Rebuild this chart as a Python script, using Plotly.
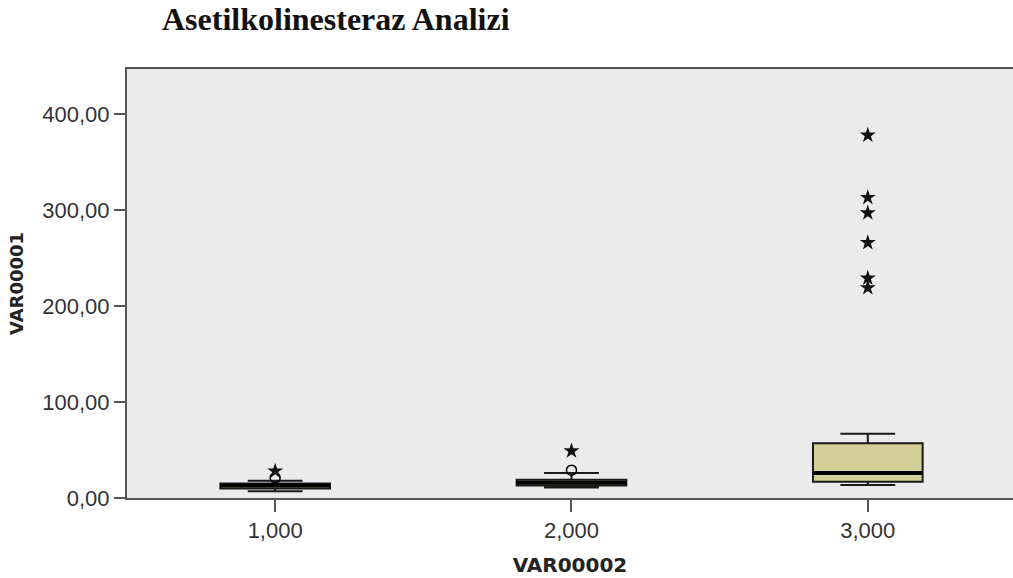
import plotly.graph_objects as go

# Data
groups = [1, 2, 3]
group_labels = ["1,000", "2,000", "3,000"]
q1 = [10.0, 13.0, 17.0]
median = [13.0, 16.0, 26.0]
q3 = [15.0, 19.0, 57.0]
lower_whisker = [7.0, 11.0, 13.5]
upper_whisker = [18.0, 26.0, 67.0]

# outliers: circles (mild) and stars (extreme)
circle_x = [1, 2]
circle_y = [21.0, 29.0]
star_x = [1, 2, 3, 3, 3, 3, 3, 3]
star_y = [28.0, 49.0, 378.0, 313.0, 297.0, 266.0, 229.0, 219.0]

y_ticks = [0, 100, 200, 300, 400]
y_tick_labels = ["0,00", "100,00", "200,00", "300,00", "400,00"]

BOX_W = 0.37
fig = go.Figure()
for i, g in enumerate(groups):
    fig.add_trace(go.Box(
        x=[g], q1=[q1[i]], median=[median[i]], q3=[q3[i]],
        lowerfence=[lower_whisker[i]], upperfence=[upper_whisker[i]],
        width=BOX_W, whiskerwidth=0.5,
        fillcolor="#D4CF96", line=dict(color="#1a1a1a", width=2),
        boxpoints=False, showlegend=False, hoverinfo="skip"))
    fig.add_trace(go.Scatter(
        x=[g - BOX_W / 2, g + BOX_W / 2], y=[median[i], median[i]],
        mode="lines", line=dict(color="black", width=4),
        showlegend=False, hoverinfo="skip"))

fig.add_trace(go.Scatter(
    x=circle_x, y=circle_y, mode="markers",
    marker=dict(symbol="circle-open", size=10, color="black", line=dict(width=1.5)),
    showlegend=False))
fig.add_trace(go.Scatter(
    x=star_x, y=star_y, mode="markers",
    marker=dict(symbol="star", size=12, color="#111111", line=dict(width=0)),
    showlegend=False))

fig.update_layout(
    width=1013, height=578,
    margin=dict(l=127, r=0, t=69, b=80),
    paper_bgcolor="white", plot_bgcolor="#EBEBEB",
    title=dict(text="<b>Asetilkolinesteraz Analizi</b>",
               font=dict(family="Liberation Serif", size=32, color="#111111"),
               x=162 / 1013, xanchor="left", y=1 - 19 / 578, yanchor="middle"),
    font=dict(family="Liberation Sans, Arial", color="#333333"),
)
fig.update_xaxes(
    range=[0.5, 3.49], tickmode="array", tickvals=groups, ticktext=group_labels,
    ticks="outside", ticklen=12, tickwidth=2, tickcolor="#555555",
    showline=True, linecolor="#555555", linewidth=2, mirror=True,
    showgrid=False, zeroline=False,
    tickfont=dict(family="Liberation Sans, Arial", size=22, color="#333333"),
    title=dict(text="<b>VAR00002</b>",
               font=dict(family="DejaVu Sans", size=20, color="#222222"), standoff=16),
)
fig.update_yaxes(
    range=[0, 447], tickmode="array", tickvals=y_ticks, ticktext=y_tick_labels,
    ticks="outside", ticklen=11, tickwidth=2, tickcolor="#555555",
    showline=True, linecolor="#555555", linewidth=2,
    showgrid=False, zeroline=False,
    tickfont=dict(family="Liberation Sans, Arial", size=22, color="#333333"),
    title=dict(text="<b>VAR00001</b>",
               font=dict(family="DejaVu Sans", size=18, color="#222222"), standoff=14),
)

fig.write_html("out.html")
